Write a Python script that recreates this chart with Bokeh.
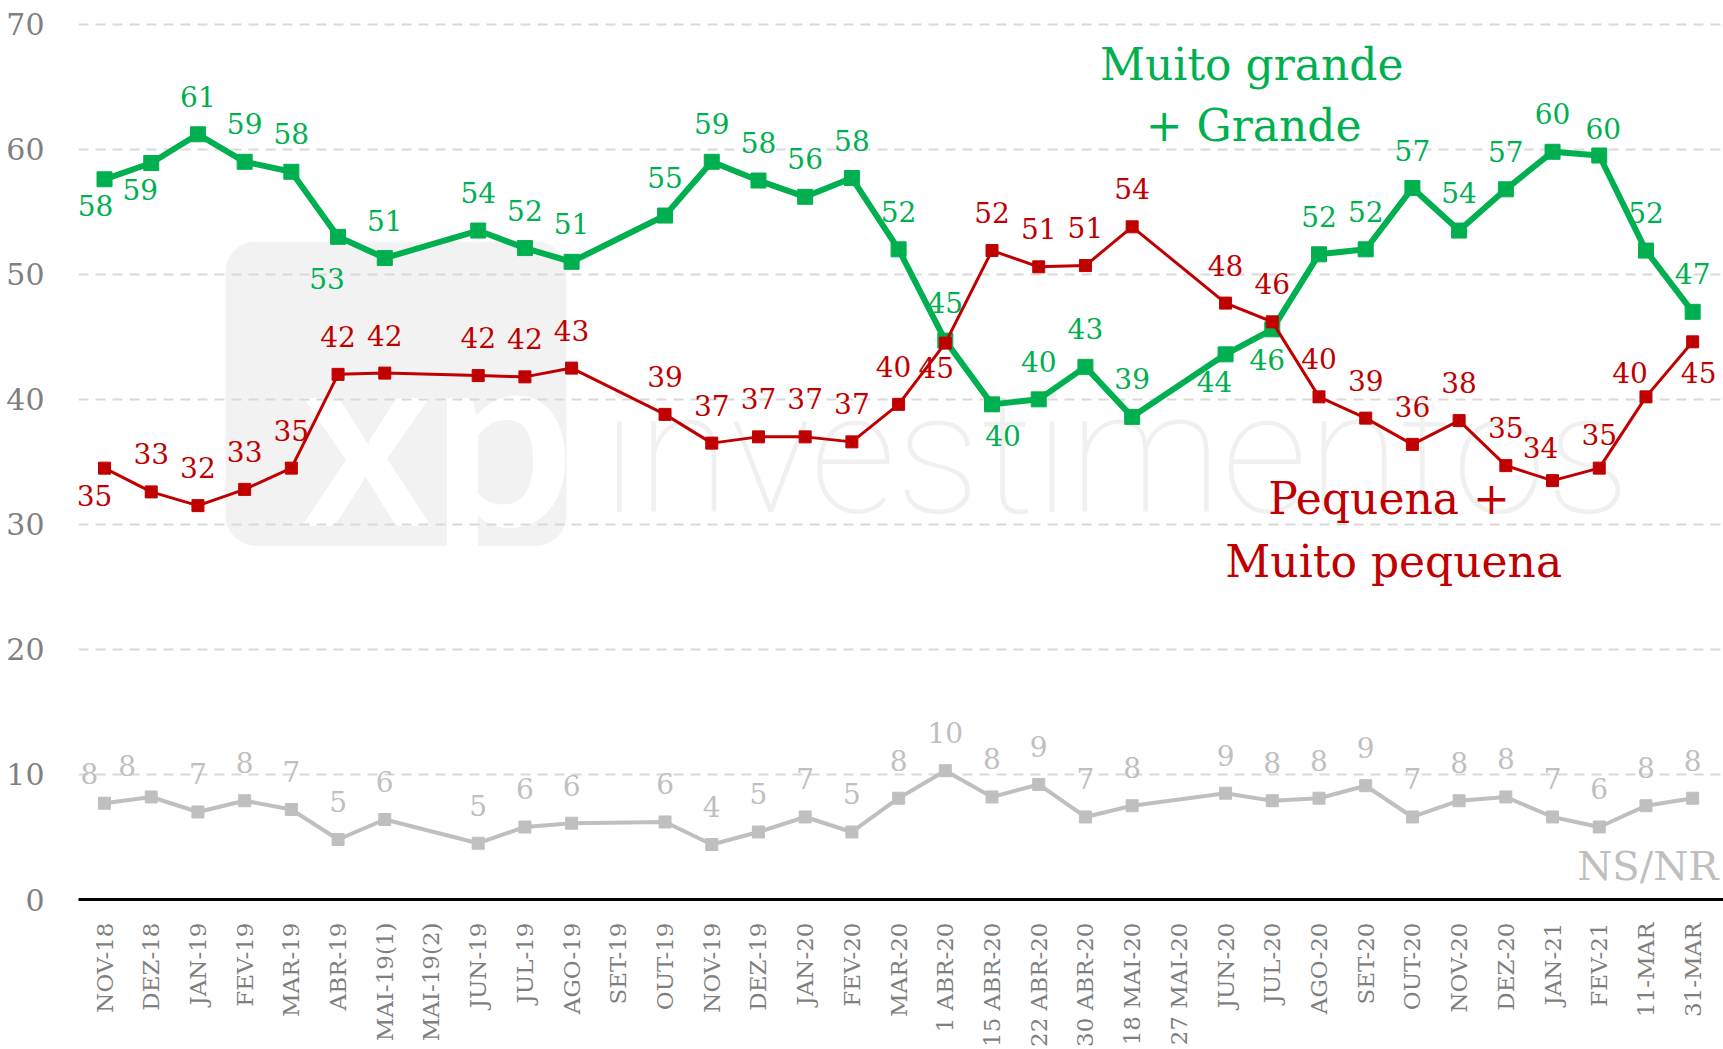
import math
from bokeh.plotting import figure
from bokeh.models import Range1d, FixedTicker, ColumnDataSource, BoxAnnotation
from bokeh.core.properties import value
from bokeh.embed import file_html
from bokeh.resources import INLINE

# ---------------- data ----------------
categories = ["NOV-18", "DEZ-18", "JAN-19", "FEV-19", "MAR-19", "ABR-19", "MAI-19(1)", "MAI-19(2)",
              "JUN-19", "JUL-19", "AGO-19", "SET-19", "OUT-19", "NOV-19", "DEZ-19", "JAN-20",
              "FEV-20", "MAR-20", "1 ABR-20", "15 ABR-20", "22 ABR-20", "30 ABR-20", "18 MAI-20",
              "27 MAI-20", "JUN-20", "JUL-20", "AGO-20", "SET-20", "OUT-20", "NOV-20", "DEZ-20",
              "JAN-21", "FEV-21", "11-MAR", "31-MAR"]

muito_grande_grande = [57.6, 58.9, 61.2, 59.0, 58.2, 53.0, 51.3, None, 53.5, 52.1, 51.0, None, 54.7,
                       59.0, 57.5, 56.2, 57.7, 52.0, 44.7, 39.6, 40.0, 42.6, 38.6, None, 43.6, 45.6,
                       51.6, 52.0, 56.9, 53.5, 56.8, 59.8, 59.5, 51.9, 47.0]

pequena_muito_pequena = [34.5, 32.6, 31.5, 32.8, 34.5, 42.0, 42.1, None, 41.9, 41.8, 42.5, None, 38.8,
                         36.5, 37.0, 37.0, 36.6, 39.6, 44.5, 51.9, 50.6, 50.7, 53.8, None, 47.7, 46.2,
                         40.2, 38.5, 36.4, 38.3, 34.7, 33.5, 34.5, 40.2, 44.6]

ns_nr = [7.7, 8.2, 7.0, 7.9, 7.2, 4.8, 6.4, None, 4.5, 5.8, 6.1, None, 6.2,
         4.4, 5.4, 6.6, 5.4, 8.1, 10.3, 8.2, 9.2, 6.6, 7.5, None, 8.5, 7.9,
         8.1, 9.1, 6.6, 7.9, 8.2, 6.6, 5.8, 7.5, 8.1]

y_ticks = [0, 10, 20, 30, 40, 50, 60, 70]

# ---------------- style ----------------
FONT = "DejaVu Serif"
GREEN = "#00b050"
RED = "#c00000"
GRAY = "#bfbfbf"
AXIS_TXT = "#7f7f7f"

# label nudges in screen px (dx, dy); dy negative = up
ABOVE = (0, -38)
green_nudge = {0: (-9, 26), 1: (-11, 26), 5: (-11, 42), 19: (11, 31), 24: (-11, 27),
               25: (-5, 30), 32: (4, -27)}
red_nudge = {0: (-10, 27), 17: (-5, -38), 18: (-9, 24), 31: (-12, -33), 32: (0, -34),
             33: (-16, -24), 34: (6, 31)}
gray_nudge = {0: (-15, -30), 1: (-24, -31)}

p = figure(width=1723, height=1049, x_range=Range1d(-0.557, 34.66), y_range=Range1d(0, 70.3),
           output_backend="svg", toolbar_location=None,
           min_border_left=78, min_border_right=0, min_border_top=20, min_border_bottom=147)
p.outline_line_color = None
p.background_fill_color = "white"
p.border_fill_color = "white"

# watermark
box = BoxAnnotation(left=2.59, right=9.89, top=52.6, bottom=28.3, fill_color="#f2f2f2",
                    fill_alpha=1.0, line_color=None, border_radius=30, level="image")
p.add_layout(box)
wm1 = p.text(x=[7.13], y=[37.6], text=["xp"], text_font=value("Lato"), text_font_style="bold",
             text_font_size="250px", text_color="white", text_align="center",
             text_baseline="middle")
wm1.level = "underlay"
wm2 = p.text(x=[10.65], y=[35.6], text=["investimentos"], text_font=value("Roboto Thin"),
             text_font_size="170px", text_color="#f0f0f0", text_align="left",
             text_baseline="middle")
wm2.level = "image"

# axes
p.xaxis.ticker = FixedTicker(ticks=list(range(len(categories))))
p.xaxis.major_label_overrides = {i: c for i, c in enumerate(categories)}
p.xaxis.major_label_orientation = math.pi / 2
p.xaxis.major_label_text_font = FONT
p.xaxis.major_label_text_font_size = "23px"
p.xaxis.major_label_text_color = AXIS_TXT
p.xaxis.major_label_standoff = 17
p.xaxis.axis_line_color = "black"
p.xaxis.axis_line_width = 3
p.xaxis.major_tick_line_color = None
p.xaxis.minor_tick_line_color = None

p.yaxis.ticker = FixedTicker(ticks=y_ticks)
p.yaxis.axis_line_color = None
p.yaxis.major_tick_line_color = None
p.yaxis.minor_tick_line_color = None
p.yaxis.major_label_text_font = FONT
p.yaxis.major_label_text_font_size = "30px"
p.yaxis.major_label_text_color = AXIS_TXT
p.yaxis.major_label_standoff = 28

p.xgrid.grid_line_color = None
p.ygrid.ticker = FixedTicker(ticks=y_ticks[1:])
p.ygrid.grid_line_color = "#d9d9d9"
p.ygrid.grid_line_width = 2
p.ygrid.grid_line_dash = "10 7"


def draw(vals, color, lw, ms, nudge):
    xs = [i for i, v in enumerate(vals) if v is not None]
    ys = [vals[i] for i in xs]
    labs = [str(int(math.floor(v + 0.5))) for v in ys]
    dx = [nudge.get(i, ABOVE)[0] for i in xs]
    dy = [nudge.get(i, ABOVE)[1] for i in xs]
    src = ColumnDataSource(dict(x=xs, y=ys, lab=labs, dx=dx, dy=dy))
    p.line("x", "y", source=src, line_color=color, line_width=lw)
    p.scatter("x", "y", source=src, marker="square", size=ms, fill_color=color, line_color=color)
    p.text("x", "y", text="lab", source=src, x_offset="dx", y_offset="dy",
           text_align="center", text_baseline="middle", text_font=value(FONT),
           text_font_size="28px", text_color=color)


draw(ns_nr, GRAY, 4, 12, gray_nudge)
draw(muito_grande_grande, GREEN, 6, 15, green_nudge)
draw(pequena_muito_pequena, RED, 3, 12, red_nudge)

# series titles
p.text(x=[24.56], y=[66.8], text=["Muito grande"], text_font=value(FONT), text_font_size="44px",
       text_color=GREEN, text_align="center", text_baseline="middle")
p.text(x=[24.6], y=[61.9], text=["+ Grande"], text_font=value(FONT), text_font_size="44px",
       text_color=GREEN, text_align="center", text_baseline="middle")
p.text(x=[27.5], y=[32.1], text=["Pequena +"], text_font=value(FONT), text_font_size="44px",
       text_color=RED, text_align="center", text_baseline="middle")
p.text(x=[27.6], y=[27.0], text=["Muito pequena"], text_font=value(FONT), text_font_size="44px",
       text_color=RED, text_align="center", text_baseline="middle")
p.text(x=[34.55], y=[2.7], text=["NS/NR"], text_font=value(FONT), text_font_size="40px",
       text_color=GRAY, text_align="right", text_baseline="middle")

open("out.html", "w").write(file_html(p, INLINE))
